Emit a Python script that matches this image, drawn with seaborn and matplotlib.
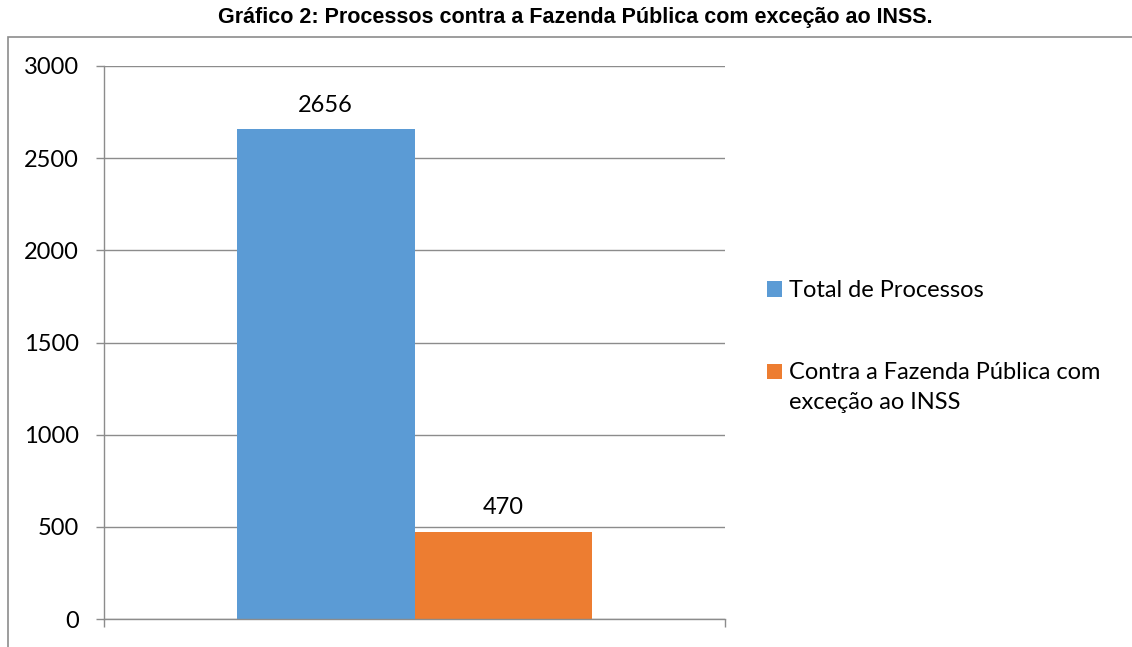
import matplotlib
matplotlib.use("Agg")
import matplotlib.pyplot as plt
import seaborn as sns
import pandas as pd
from matplotlib.patches import Rectangle, Patch
from matplotlib.legend_handler import HandlerPatch

# ----------------------------------------------------
# Data
# ----------------------------------------------------
series = ["Total de Processos", "Contra a Fazenda Pública com\nexceção ao INSS"]
values = [2656, 470]
colors = ["#5B9BD5", "#ED7D31"]
yticks = [0, 500, 1000, 1500, 2000, 2500, 3000]
title = "Gráfico 2: Processos contra a Fazenda Pública com exceção ao INSS."

GRAY = "#8c8c8c"
FS = 17


def shifted_square(shift):
    # legend square moved up so it sits on the first line of a wrapped label
    def make(legend, orig_handle, xdescent, ydescent, width, height, fontsize):
        return Rectangle((-xdescent, -ydescent + shift), width, height)
    return make


def main():
    sns.set_style("white")
    plt.rcParams["font.family"] = ["Lato", "DejaVu Sans"]
    plt.rcParams["text.color"] = "black"
    plt.rcParams["ytick.labelcolor"] = "black"

    df = pd.DataFrame({"cat": ["", ""], "serie": series, "valor": values})

    fig = plt.figure(figsize=(11.32, 6.47), dpi=100)
    ax = fig.add_axes([104 / 1132, 28 / 647, 621 / 1132, 553 / 647])

    sns.barplot(data=df, x="cat", y="valor", hue="serie", palette=colors,
                width=0.573, gap=0, saturation=1, linewidth=0, ax=ax,
                legend=False)

    for cont in ax.containers:
        ax.bar_label(cont, fontsize=FS, padding=10, color="black")

    ax.set_ylim(0, 3000)
    ax.set_xlim(-0.5, 0.5)
    ax.set_yticks(yticks)
    ax.set_xticks([-0.5, 0.5])
    ax.set_xticklabels(["", ""])
    ax.set_xlabel("")
    ax.set_ylabel("")
    ax.yaxis.grid(True, color=GRAY, linewidth=1)
    ax.set_axisbelow(True)

    for s in ["top", "right"]:
        ax.spines[s].set_visible(False)
    for s in ["left", "bottom"]:
        ax.spines[s].set_color(GRAY)
        ax.spines[s].set_linewidth(1)
    ax.tick_params(axis="y", which="both", left=True, length=6, color=GRAY,
                   width=1, pad=12, labelsize=FS, labelcolor="black")
    ax.tick_params(axis="x", which="both", bottom=True, length=6, color=GRAY,
                   width=1)

    # legend at the right
    handles = [Patch(facecolor=c, edgecolor="none") for c in colors]
    leg = ax.legend(handles, series, loc="upper left",
                    bbox_to_anchor=(758 / 1132, 1 - 271 / 647),
                    bbox_transform=fig.transFigure, frameon=False, fontsize=FS,
                    handlelength=0.62, handleheight=0.62, handletextpad=0.3,
                    labelspacing=2.55, borderaxespad=0,
                    handler_map={handles[1]: HandlerPatch(patch_func=shifted_square(11.5))})
    for t in leg.get_texts():
        t.set_linespacing(1.55)
        t.set_color("black")

    # outer chart frame (cut at right and bottom like the source)
    frame = Rectangle((8 / 1132, -0.1), 1.2, 1.1 - 37 / 647,
                      transform=fig.transFigure, fill=False,
                      edgecolor=GRAY, linewidth=1.2, clip_on=False)
    fig.patches.append(frame)

    fig.text(0.508, 1 - 17 / 647, title, ha="center", va="center",
             fontsize=15.5, fontweight="bold", family="Liberation Sans",
             color="black")

    fig.savefig("out.png", dpi=100)
    plt.close(fig)


if __name__ == "__main__":
    main()
